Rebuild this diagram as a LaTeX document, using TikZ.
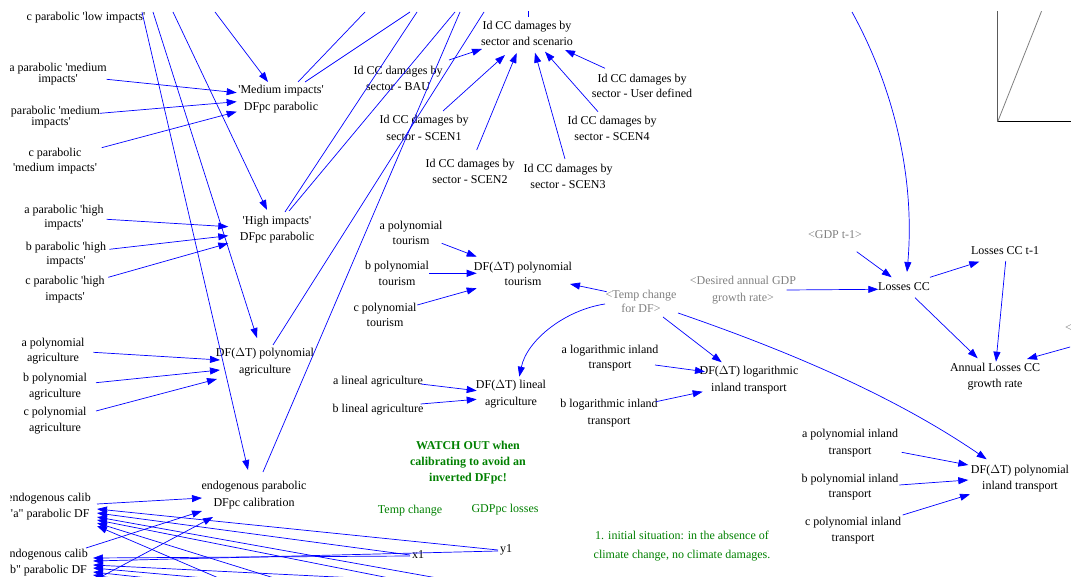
\documentclass[tikz,border=0pt]{standalone}
\usepackage{fontspec}
\setmainfont{Liberation Serif}[Ligatures=TeXOff]
\usetikzlibrary{arrows.meta}
\definecolor{vblue}{RGB}{0,0,255}
\definecolor{vgray}{RGB}{128,128,128}
\definecolor{vgreen}{RGB}{0,128,0}
\tikzset{
 v/.style={inner sep=0pt, align=center, font=\fontsize{12}{16}\selectfont},
 vs/.style={v, font=\fontsize{12}{#1}\selectfont},
 shad/.style={text=vgray},
 grn/.style={text=vgreen},
 arr/.style={draw=vblue, line width=0.7pt, -{Triangle[length=10pt,width=7pt]}},
 ln/.style={draw=vblue, line width=0.7pt},
 axis/.style={line width=0.8pt},
}
\begin{document}
\begin{tikzpicture}[x=1pt,y=-1pt]
\path[use as bounding box] (0,0) rectangle (1071,577);
\clip (10,12) rectangle (1071,577);
% ---------- nodes: left column ----------
\node[v] (lowc) at (86,18) {c parabolic 'low impacts'};
\node[vs=11] (amed) at (58,74) {a parabolic 'medium\\impacts'};
\node[vs=10] (bmed) at (51,117) {b parabolic 'medium\\impacts'};
\node[vs=15] (cmed) at (55,161.5) {c parabolic\\'medium impacts'};
\node[vs=17] (med) at (281,99) {'Medium impacts'\\DFpc parabolic};
\node[vs=14] (ahigh) at (64,218) {a parabolic 'high\\impacts'};
\node[vs=14] (bhigh) at (66,254.5) {b parabolic 'high\\impacts'};
\node[vs=15.5] (chigh) at (65,289.5) {c parabolic 'high\\impacts'};
\node[v] (high) at (277,230) {'High impacts'\\DFpc parabolic};
\node[vs=15] (apag) at (53,351) {a polynomial\\agriculture};
\node[v] (bpag) at (55,387) {b polynomial\\agriculture};
\node[v] (cpag) at (55,421) {c polynomial\\agriculture};
\node[vs=16.7] (pag) at (265,362) {DF($\Delta$T) polynomial\\agriculture};
\node[vs=17] (endo) at (254,495) {endogenous parabolic\\DFpc calibration};
\node[vs=16.7] (cala) at (49,506.7) {endogenous calib\\"a" parabolic DF};
\node[v] (calb) at (46,563) {endogenous calib\\"b" parabolic DF};
\node[v] (x1) at (418,555) {x1};
\node[v] (y1) at (506,550) {y1};
\node[v,grn] (tc) at (410,511) {Temp change};
\node[v,grn] (gl) at (505,510) {GDPpc losses};
\node[v,grn,font=\fontsize{12}{16}\selectfont\bfseries] (watch) at (468,462.5) {WATCH OUT when\\calibrating to avoid an\\inverted DFpc!};
\node[vs=18.3,grn] (note1) at (682,546) {1. initial situation: in the absence of\\climate change, no climate damages.};
% ---------- Id CC ----------
\node[vs=16.7] (idcc) at (527,33.5) {Id CC damages by\\sector and scenario};
\node[v] (bau) at (398,78.7) {Id CC damages by\\sector - BAU};
\node[vs=16.7] (s1) at (424,128) {Id CC damages by\\sector - SCEN1};
\node[v] (s2) at (470,171) {Id CC damages by\\sector - SCEN2};
\node[v] (s3) at (568,176) {Id CC damages by\\sector - SCEN3};
\node[v] (s4) at (612,128) {Id CC damages by\\sector - SCEN4};
\node[vs=15] (ud) at (642,86) {Id CC damages by\\sector - User defined};
% ---------- middle ----------
\node[vs=15.7] (apt) at (411,233) {a polynomial\\tourism};
\node[v] (bpt) at (397,273) {b polynomial\\tourism};
\node[vs=15] (cpt) at (385,314.5) {c polynomial\\tourism};
\node[vs=15] (pt) at (523,274) {DF($\Delta$T) polynomial\\tourism};
\node[vs=14,shad] (tdf) at (641,301) {<Temp change\\for DF>};
\node[vs=16.6,shad] (des) at (743,290) {<Desired annual GDP\\growth rate>};
\node[v] (alin) at (378,382) {a lineal agriculture};
\node[v] (blin) at (378,410) {b lineal agriculture};
\node[vs=16.7] (lin) at (511,394) {DF($\Delta$T) lineal\\agriculture};
\node[vs=15] (alog) at (610,358) {a logarithmic inland\\transport};
\node[vs=16.7] (blog) at (609,413) {b logarithmic inland\\transport};
\node[vs=16.7] (log) at (749,380) {DF($\Delta$T) logarithmic\\inland transport};
% ---------- right ----------
\node[v,shad] (gdpt) at (835,235) {<GDP t-1>};
\node[v] (loss) at (904,287) {Losses CC};
\node[v] (losst) at (1005,251) {Losses CC t-1};
\node[vs=16.7] (ann) at (995,376.5) {Annual Losses CC\\growth rate};
\node[v,shad,anchor=west] (lt) at (1065,328) {<};
\node[vs=16.7] (api) at (850,443) {a polynomial inland\\transport};
\node[vs=15.3] (bpi) at (850,487) {b polynomial inland\\transport};
\node[vs=15.7] (cpi) at (853,530.5) {c polynomial inland\\transport};
\node[v] (pi) at (1020,478.7) {DF($\Delta$T) polynomial\\inland transport};
% ---------- lookup graph icon ----------
\draw[axis,vgray!70!black] (997.7,10) -- (997.7,121.7);
\draw[axis,black] (997.7,121.7) -- (1075,121.7);
\draw[axis,vgray] (997.7,121.7) -- (1042,10);
% ---------- free ends off the view ----------
\coordinate (tA) at (142,12);
\coordinate (tB) at (153,12);
\coordinate (tC) at (173,12);
\coordinate (tD) at (215,12);
\coordinate (uA) at (365,12);
\coordinate (uB) at (410,12);
\coordinate (uC) at (417,12);
\coordinate (uD) at (455,12);
\coordinate (uE) at (484,12);
\coordinate (uF) at (460,12);
\coordinate (uG) at (528,10);
\coordinate (tL) at (852,12);
\coordinate (bE) at (95,580);
\coordinate (c1) at (560,600);
\coordinate (c2) at (500,600);
\coordinate (c3) at (345,600);
\coordinate (c4) at (270,600);
\coordinate (d1) at (600,590);
\coordinate (d2) at (450,600);
\coordinate (d3) at (350,600);
\coordinate (d4) at (250,600);
% ---------- connectors: left ----------
\draw[arr] ([shift={(48.7,5.3)}]amed.center) -- ([shift={(-44.3,-6.3)}]med.center);
\draw[arr] ([shift={(49,-3.7)}]bmed.center) -- ([shift={(-44.3,2.7)}]med.center);
\draw[arr] ([shift={(46.7,-13.8)}]cmed.center) -- ([shift={(-44.3,12.7)}]med.center);
\draw[arr] (tD) -- ([shift={(-13,-17)}]med.center);
\draw[ln] ([shift={(17,-17)}]med.center) -- (uA);
\draw[ln] ([shift={(24,-17)}]med.center) -- (uB);
\draw[arr] ([shift={(42.7,1.3)}]ahigh.center) -- ([shift={(-48.7,-3.3)}]high.center);
\draw[arr] ([shift={(43.3,-5.2)}]bhigh.center) -- ([shift={(-48.7,5.7)}]high.center);
\draw[arr] ([shift={(43.3,-12.2)}]chigh.center) -- ([shift={(-48.7,13.3)}]high.center);
\draw[arr] (tC) -- ([shift={(-10,-20)}]high.center);
\draw[ln] ([shift={(8,-18)}]high.center) -- (uC);
\draw[ln] ([shift={(12,-19)}]high.center) -- (uD);
\draw[arr] ([shift={(40.3,1.3)}]apag.center) -- ([shift={(-45,-2)}]pag.center);
\draw[arr] ([shift={(41,-4.3)}]bpag.center) -- ([shift={(-45,8)}]pag.center);
\draw[arr] ([shift={(41,-10)}]cpag.center) -- ([shift={(-48,17)}]pag.center);
\draw[arr] (tB) -- ([shift={(-8,-24)}]pag.center);
\draw[ln] ([shift={(8,-17)}]pag.center) -- (uE);
\draw[arr] (tA) -- ([shift={(-6,-25)}]endo.center);
\draw[ln] ([shift={(9,-23)}]endo.center) -- (uF);
\draw[arr] ([shift={(48,-2.7)}]cala.center) -- ([shift={(-52,3)}]endo.center);
\draw[arr] ([shift={(40,-15)}]calb.center) -- ([shift={(-52,16)}]endo.center);
\draw[arr] (bE) -- ([shift={(-41,22)}]endo.center);
% calibration points
\draw[arr] ([shift={(-8,0)}]y1.center) -- ([shift={(48,2.3)}]cala.center);
\draw[arr] ([shift={(-8,0)}]x1.center) -- ([shift={(48,6.3)}]cala.center);
\draw[arr] (c1) -- ([shift={(48,10.3)}]cala.center);
\draw[arr] (c2) -- ([shift={(48,13.3)}]cala.center);
\draw[arr] (c3) -- ([shift={(48,16.3)}]cala.center);
\draw[arr] (c4) -- ([shift={(48,19.3)}]cala.center);
\draw[arr] ([shift={(-8,1)}]x1.center) -- ([shift={(47,-5)}]calb.center);
\draw[arr] ([shift={(-8,1)}]y1.center) -- ([shift={(47,-2)}]calb.center);
\draw[arr] (d1) -- ([shift={(47,2)}]calb.center);
\draw[arr] (d2) -- ([shift={(47,5)}]calb.center);
\draw[arr] (d3) -- ([shift={(47,9)}]calb.center);
\draw[arr] (d4) -- ([shift={(47,12)}]calb.center);
% ---------- Id CC ----------
\draw[arr] ([shift={(51,-18.7)}]bau.center) -- ([shift={(-45,15.5)}]idcc.center);
\draw[arr] ([shift={(19,-17)}]s1.center) -- ([shift={(-22,21.5)}]idcc.center);
\draw[arr] ([shift={(6.7,-21)}]s2.center) -- ([shift={(-10.3,19.5)}]idcc.center);
\draw[arr] ([shift={(-3,-17)}]s3.center) -- ([shift={(8,19.2)}]idcc.center);
\draw[arr] ([shift={(-14,-16.3)}]s4.center) -- ([shift={(18,18.2)}]idcc.center);
\draw[arr] ([shift={(-37,-17.7)}]ud.center) -- ([shift={(38,16.5)}]idcc.center);
\draw[ln] ([shift={(1,-16.5)}]idcc.center) -- (uG);
% ---------- middle ----------
\draw[arr] ([shift={(30.7,10.3)}]apt.center) -- ([shift={(-46.3,-17.3)}]pt.center);
\draw[arr] ([shift={(32,0.3)}]bpt.center) -- ([shift={(-46.3,-0.7)}]pt.center);
\draw[arr] ([shift={(32.3,-9.5)}]cpt.center) -- ([shift={(-46.3,14.3)}]pt.center);
\draw[arr] ([shift={(-34.3,-9.3)}]tdf.center) -- ([shift={(47,10)}]pt.center);
\draw[arr] ([shift={(-36,3)}]tdf.center) .. controls (565,310) and (527,340) .. ([shift={(8.3,-17.3)}]lin.center);
\draw[arr] ([shift={(22,16)}]tdf.center) -- ([shift={(-27.3,-17.7)}]log.center);
\draw[arr] ([shift={(37,12)}]tdf.center) .. controls (800,355) and (900,400) .. ([shift={(-33.3,-19.4)}]pi.center);
\draw[arr] ([shift={(42.7,2)}]alin.center) -- ([shift={(-34.3,-3.3)}]lin.center);
\draw[arr] ([shift={(42.7,-6)}]blin.center) -- ([shift={(-34.3,5.3)}]lin.center);
\draw[arr] ([shift={(45,7)}]alog.center) -- ([shift={(-44,-8.3)}]log.center);
\draw[arr] ([shift={(47,-11.3)}]blog.center) -- ([shift={(-46.3,11.7)}]log.center);
% ---------- right ----------
\draw[arr] ([shift={(51.7,9.3)}]api.center) -- ([shift={(-51.7,-13.7)}]pi.center);
\draw[arr] ([shift={(49.3,-2)}]bpi.center) -- ([shift={(-51.7,1.3)}]pi.center);
\draw[arr] ([shift={(49.7,-15.5)}]cpi.center) -- ([shift={(-50,15.6)}]pi.center);
\draw[arr] ([shift={(21.7,16.7)}]gdpt.center) -- ([shift={(-12.3,-9.7)}]loss.center);
\draw[arr] ([shift={(43.7,0)}]des.center) -- ([shift={(-25.7,2.3)}]loss.center);
\draw[arr] ([shift={(26,-9.7)}]loss.center) -- ([shift={(-25.7,10.7)}]losst.center);
\draw[arr] ([shift={(11,10.7)}]loss.center) -- ([shift={(-17.3,-18.2)}]ann.center);
\draw[arr] ([shift={(0.7,10)}]losst.center) -- ([shift={(1,-14.8)}]ann.center);
\draw[arr] ([shift={(1.5,19)}]lt.center) -- ([shift={(32,-17.5)}]ann.center);
\draw[arr] (tL) .. controls (895,90) and (915,180) .. ([shift={(3,-15)}]loss.center);
\end{tikzpicture}
\end{document}
